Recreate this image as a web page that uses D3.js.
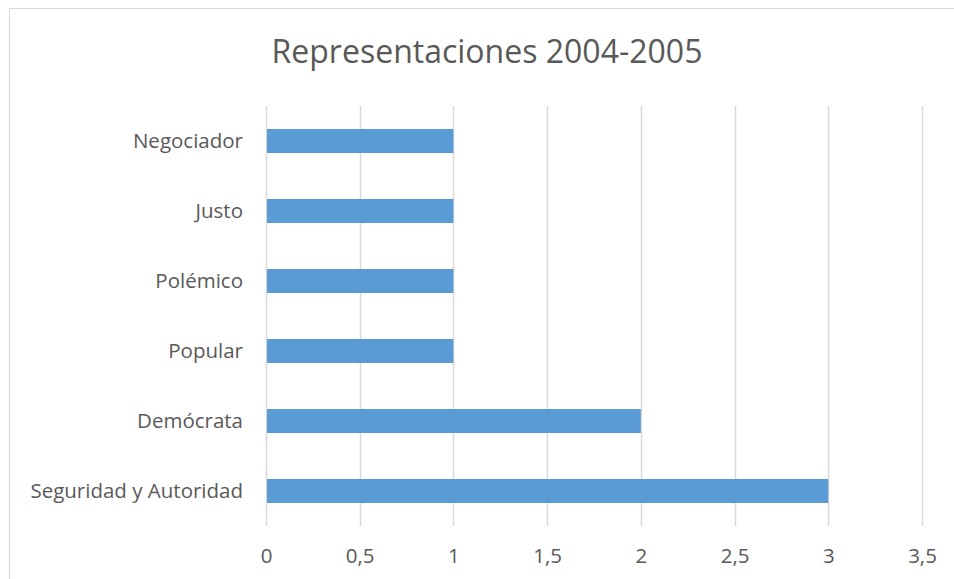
<!DOCTYPE html>
<html lang="es">
<head>
<meta charset="utf-8">
<title>Representaciones 2004-2005</title>
<script src="https://cdn.jsdelivr.net/npm/d3@7"></script>
<style>
  body { margin: 0; background: #fff; }
  text { font-family: "Open Sans", "Noto Sans", sans-serif; fill: #595959; }
</style>
</head>
<body>
<script>
    var categories = ["Negociador", "Justo", "Polémico", "Popular", "Demócrata", "Seguridad y Autoridad"];
    var values = [1, 1, 1, 1, 2, 3];
    var xTicks = [0, 0.5, 1, 1.5, 2, 2.5, 3, 3.5];
    var title = "Representaciones 2004-2005";

    var W = 954, H = 579;
    var margin = {top: 106, left: 266, right: 32, bottom: 53};

    var svg = d3.select("body").append("svg")
        .attr("width", W)
        .attr("height", H);

    // chart frame
    svg.append("rect")
        .attr("x", 9.5).attr("y", 8.5)
        .attr("width", W + 20).attr("height", H + 20)
        .attr("fill", "none")
        .attr("stroke", "#d9d9d9")
        .attr("stroke-width", 1);

    svg.append("text")
        .attr("x", 487)
        .attr("y", 63)
        .attr("text-anchor", "middle")
        .style("font-size", "32px")
        .text(title);

    var xScale = d3.scaleLinear()
        .domain([0, 3.5])
        .range([margin.left, W - margin.right]);

    var yScale = d3.scaleBand()
        .domain(categories)
        .range([margin.top, H - margin.bottom])
        .paddingInner(0.657)
        .paddingOuter(0.3285);

    // gridlines
    svg.append("g")
        .selectAll("line")
        .data(xTicks)
        .enter()
        .append("line")
        .attr("x1", function (d) { return Math.round(xScale(d)) + 0.5; })
        .attr("x2", function (d) { return Math.round(xScale(d)) + 0.5; })
        .attr("y1", margin.top)
        .attr("y2", H - margin.bottom)
        .attr("stroke", "#d9d9d9")
        .attr("stroke-width", 1.5);

    // bars
    svg.append("g")
        .selectAll("rect")
        .data(values)
        .enter()
        .append("rect")
        .attr("x", xScale(0) + 1)
        .attr("y", function (d, i) { return yScale(categories[i]); })
        .attr("width", function (d) { return xScale(d) - xScale(0) - 1; })
        .attr("height", yScale.bandwidth())
        .attr("fill", "#5b9bd5");

    // x axis labels
    var xAxis = d3.axisBottom(xScale)
        .tickValues(xTicks)
        .tickSize(0)
        .tickPadding(0)
        .tickFormat(function (d) { return String(d).replace(".", ","); });

    var gx = svg.append("g")
        .attr("transform", "translate(0," + (H - margin.bottom + 22) + ")")
        .call(xAxis);
    gx.select(".domain").remove();
    gx.selectAll("text").style("font-size", "20.5px").attr("fill", "#595959");

    // y axis labels
    var yAxis = d3.axisLeft(yScale)
        .tickSize(0)
        .tickPadding(23);

    var gy = svg.append("g")
        .attr("transform", "translate(" + margin.left + ",0)")
        .call(yAxis);
    gy.select(".domain").remove();
    gy.selectAll("text").style("font-size", "20.5px").attr("fill", "#595959");
</script>
</body>
</html>
